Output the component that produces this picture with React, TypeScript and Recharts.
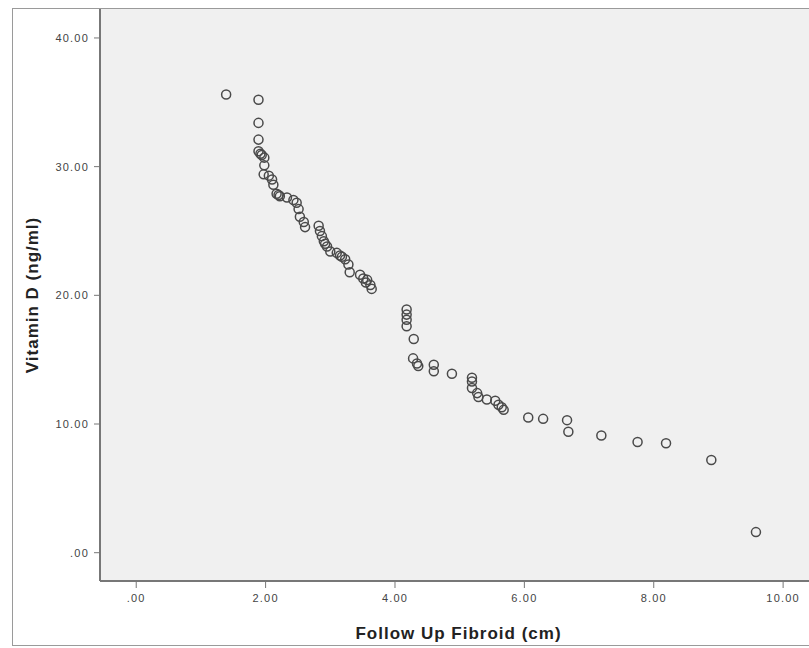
import * as React from 'react';
import { ScatterChart, Scatter, XAxis, YAxis, CartesianGrid } from 'recharts';

// Follow up fibroid size (cm) vs vitamin D (ng/ml)
const followUpFibroid = [
  1.39, 1.89, 1.89, 1.89, 1.89, 1.92, 1.94, 1.98, 1.98, 1.97, 2.05, 2.10, 2.12, 2.17, 2.20,
  2.22, 2.33, 2.43, 2.48, 2.51, 2.53, 2.59, 2.61, 2.82, 2.84, 2.87, 2.90, 2.92, 2.95, 3.00,
  3.10, 3.15, 3.18, 3.23, 3.28, 3.30, 3.46, 3.51, 3.55, 3.57, 3.62, 3.64,
  4.18, 4.18, 4.18, 4.18, 4.29, 4.28, 4.34, 4.36, 4.60, 4.60, 4.88, 5.19, 5.19, 5.19,
  5.27, 5.29, 5.42, 5.55, 5.60, 5.65, 5.68, 6.06, 6.29, 6.66, 6.68, 7.19, 7.75, 8.19,
  8.89, 9.58,
];

const vitaminD = [
  35.6, 35.2, 33.4, 32.1, 31.2, 31.0, 30.9, 30.7, 30.1, 29.4, 29.3, 29.0, 28.6, 27.9, 27.8,
  27.7, 27.6, 27.4, 27.2, 26.7, 26.1, 25.7, 25.3, 25.4, 25.0, 24.6, 24.2, 24.0, 23.8, 23.4,
  23.3, 23.1, 23.0, 22.8, 22.4, 21.8, 21.6, 21.3, 21.0, 21.2, 20.8, 20.5,
  18.9, 18.5, 18.1, 17.6, 16.6, 15.1, 14.7, 14.5, 14.6, 14.1, 13.9, 13.6, 13.3, 12.8,
  12.4, 12.1, 11.9, 11.8, 11.5, 11.3, 11.1, 10.5, 10.4, 10.3, 9.4, 9.1, 8.6, 8.5,
  7.2, 1.6,
];

const xTicks = [0, 2, 4, 6, 8, 10];
const yTicks = [0, 10, 20, 30, 40];

const data = followUpFibroid.map((x, i) => ({ x, y: vitaminD[i] }));

const fmt = (v: number) => (v === 0 ? '.00' : v.toFixed(2));

const tickStyle = {
  fill: '#444',
  fontSize: 11,
  letterSpacing: 1.2,
  fontFamily: 'Liberation Sans, Arial, sans-serif',
};
const titleStyle = {
  fill: '#222',
  fontSize: 17,
  fontWeight: 700,
  letterSpacing: 1,
  fontFamily: 'Liberation Sans, Arial, sans-serif',
};

export default function App() {
  return (
    <div style={{ position: 'absolute', left: 0, top: 0, width: 809, height: 648, background: '#fff' }}>
      <div
        style={{
          position: 'absolute',
          left: 12,
          top: 8,
          width: 820,
          height: 638,
          border: '1px solid #9a9a9a',
          boxSizing: 'border-box',
        }}
      />
      <div style={{ position: 'absolute', left: 0, top: 0 }}>
        <ScatterChart width={809} height={648} margin={{ top: 9, right: 0, bottom: 0, left: 0 }}>
          <CartesianGrid fill="#f0f0f0" horizontal={false} vertical={false} />
          <XAxis
            xAxisId="top"
            orientation="top"
            dataKey="x"
            type="number"
            domain={[-0.56, 10.4]}
            height={0}
            tick={false}
            tickLine={false}
            axisLine={{ stroke: '#777', strokeWidth: 2 }}
          />
          <XAxis
            dataKey="x"
            type="number"
            domain={[-0.56, 10.4]}
            ticks={xTicks}
            tickFormatter={fmt}
            allowDataOverflow
            height={67}
            tickSize={7}
            tickMargin={6}
            tick={tickStyle}
            axisLine={{ stroke: '#777', strokeWidth: 2 }}
            tickLine={{ stroke: '#777' }}
            label={{
              content: (p: any) => {
                const vb = p.viewBox || {};
                return (
                  <text x={vb.x + vb.width / 2 + 4} y={vb.y + 58} textAnchor="middle" style={titleStyle}>
                    Follow Up Fibroid (cm)
                  </text>
                );
              },
            }}
          />
          <YAxis
            dataKey="y"
            type="number"
            domain={[-2.2, 42.25]}
            ticks={yTicks}
            tickFormatter={fmt}
            allowDataOverflow
            width={100}
            tickSize={6}
            tickMargin={5}
            tick={tickStyle}
            axisLine={{ stroke: '#777', strokeWidth: 2 }}
            tickLine={{ stroke: '#777' }}
            label={{
              content: (p: any) => {
                const vb = p.viewBox || {};
                const cx = vb.x + 32;
                const cy = vb.y + vb.height / 2;
                return (
                  <text
                    x={cx}
                    y={cy}
                    transform={`rotate(-90, ${cx}, ${cy})`}
                    textAnchor="middle"
                    dominantBaseline="central"
                    style={titleStyle}
                  >
                    Vitamin D (ng/ml)
                  </text>
                );
              },
            }}
          />
          <Scatter
            data={data}
            fill="none"
            stroke="#4a4a4a"
            strokeWidth={1.5}
            isAnimationActive={false}
          />
        </ScatterChart>
      </div>
    </div>
  );
}
